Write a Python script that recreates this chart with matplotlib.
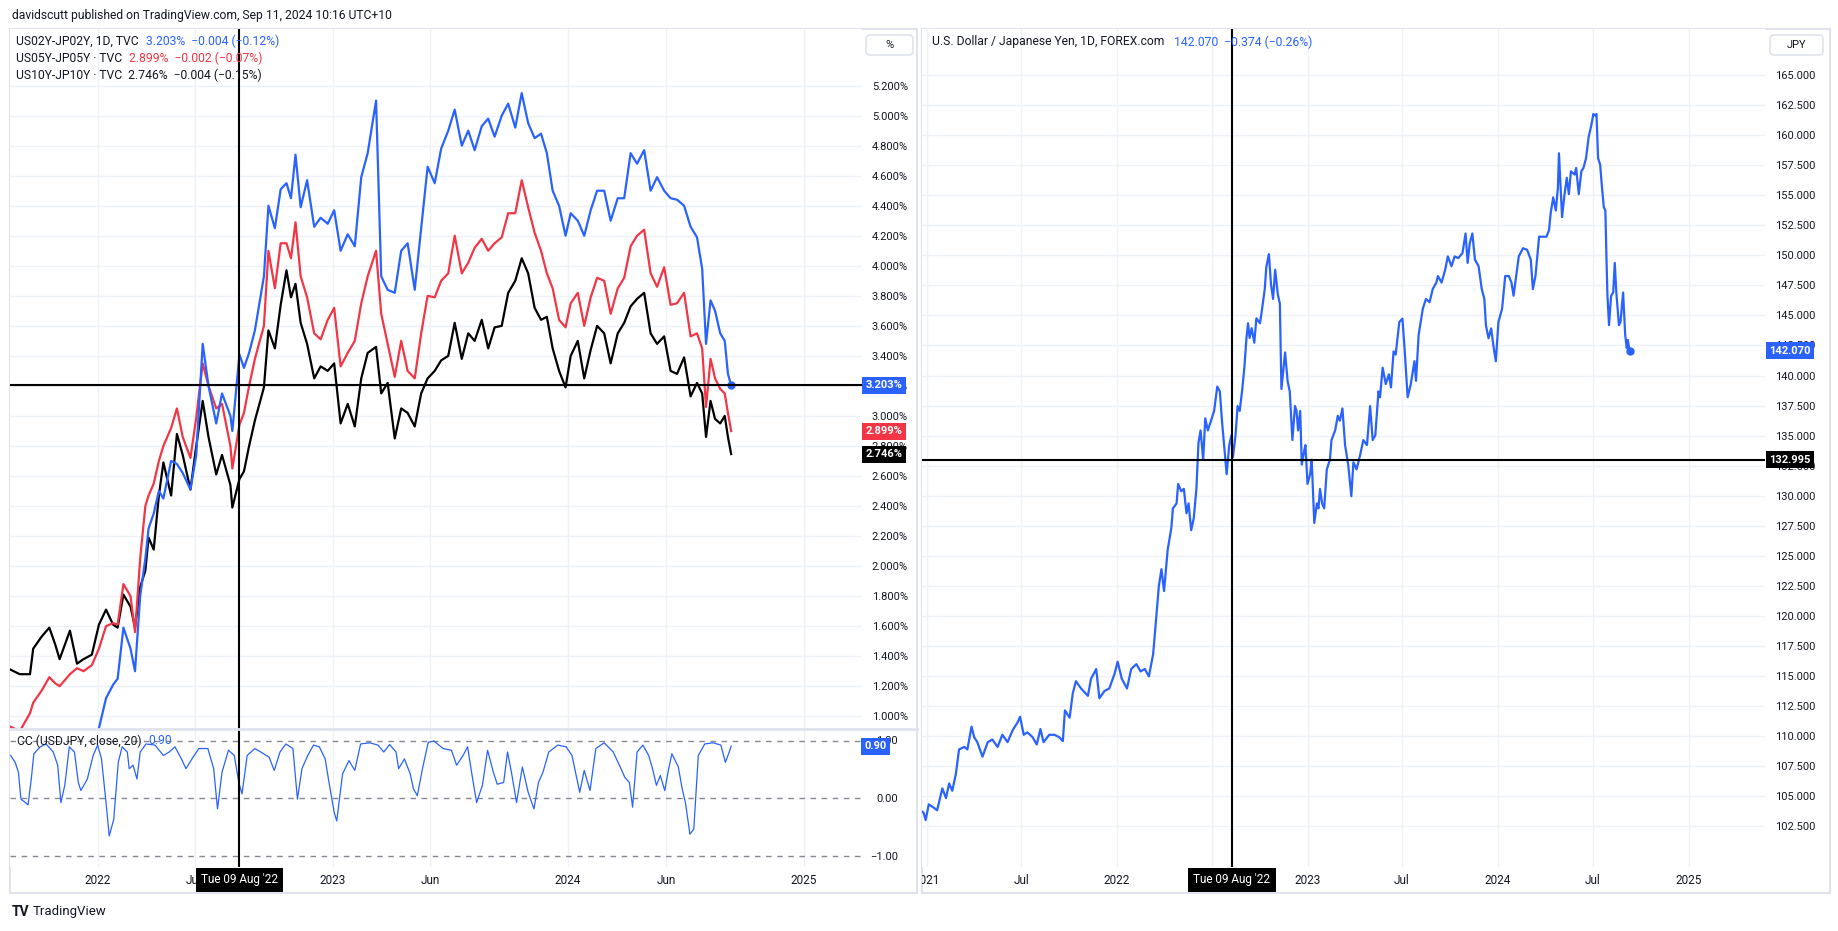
import numpy as np
import pandas as pd
import matplotlib
matplotlib.use('Agg')
import matplotlib.pyplot as plt
from matplotlib.patches import Rectangle, FancyBboxPatch
from matplotlib.lines import Line2D
from matplotlib.ticker import FixedLocator, FuncFormatter, NullFormatter
from matplotlib.transforms import blended_transform_factory, IdentityTransform

# ── Colours ───────────────────────────────────────────────────────────────────
BLUE   = '#2962ff'
RED    = '#f23645'
BLACK  = '#000000'
TEXT   = '#131722'
GRID   = '#eef1f6'
BORDER = '#e0e3eb'

# ── Left chart: US-JP yield spreads ──────────────────────────────────────────
spread_dates = [
    '2021-08-19', '2021-09-02', '2021-09-18', '2021-09-23', '2021-10-06', '2021-10-18',
    '2021-10-27', '2021-11-03', '2021-11-19', '2021-11-30', '2021-12-10', '2021-12-23',
    '2022-01-03', '2022-01-14', '2022-01-25', '2022-02-01', '2022-02-10', '2022-02-21',
    '2022-02-28', '2022-03-08', '2022-03-16', '2022-03-21', '2022-03-29', '2022-04-06',
    '2022-04-13', '2022-04-25', '2022-05-04', '2022-05-13', '2022-05-25', '2022-06-03',
    '2022-06-13', '2022-06-22', '2022-07-04', '2022-07-13', '2022-07-26', '2022-07-29',
    '2022-08-09', '2022-08-16', '2022-08-24', '2022-09-02', '2022-09-16', '2022-09-23',
    '2022-10-03', '2022-10-12', '2022-10-21', '2022-10-28', '2022-11-04',
    '2022-11-12', '2022-11-22', '2022-12-03', '2022-12-13', '2022-12-24', '2023-01-03',
    '2023-01-13', '2023-01-24', '2023-02-04', '2023-02-14', '2023-02-24', '2023-03-09',
    '2023-03-17', '2023-03-27', '2023-04-07', '2023-04-17', '2023-04-27', '2023-05-08',
    '2023-05-18', '2023-05-28', '2023-06-08', '2023-06-18', '2023-06-29', '2023-07-09',
    '2023-07-20', '2023-07-30', '2023-08-09', '2023-08-20', '2023-08-30', '2023-09-09',
    '2023-09-20', '2023-09-30', '2023-10-11', '2023-10-21', '2023-10-31', '2023-11-10',
    '2023-11-20', '2023-11-29', '2023-12-08', '2023-12-18', '2023-12-28', '2024-01-05',
    '2024-01-16', '2024-01-26', '2024-02-05', '2024-02-15', '2024-02-26', '2024-03-07',
    '2024-03-18', '2024-03-28', '2024-04-07', '2024-04-17', '2024-04-28', '2024-05-08',
    '2024-05-18', '2024-05-29', '2024-06-08', '2024-06-18', '2024-06-29', '2024-07-09',
    '2024-07-19', '2024-07-27', '2024-08-02', '2024-08-09', '2024-08-16', '2024-08-24',
    '2024-08-31', '2024-09-05', '2024-09-10',
]
us02_jp02 = [
    None, None, None, None, None, None, None, None, None, None, None, None,
    0.92, 1.12, 1.21, 1.25, 1.59, 1.45, 1.30, 1.80, 2.05, 2.25, 2.35, 2.50,
    2.45, 2.70, 2.68, 2.62, 2.51, 2.74, 3.48, 3.20, 2.95, 3.15, 3.00, 2.90,
    3.41, 3.32, 3.42, 3.57, 3.93, 4.40, 4.25, 4.51, 4.55, 4.45, 4.74,
    4.39, 4.57, 4.26, 4.32, 4.28, 4.37, 4.10, 4.21, 4.13, 4.59, 4.75, 5.10,
    3.93, 3.84, 3.82, 4.10, 4.15, 3.84, 4.25, 4.66, 4.55, 4.78, 4.90, 5.04,
    4.80, 4.90, 4.77, 4.93, 4.98, 4.86, 5.00, 5.08, 4.92, 5.15, 4.95, 4.85,
    4.88, 4.75, 4.50, 4.40, 4.20, 4.35,
    4.30, 4.20, 4.37, 4.50, 4.50, 4.30, 4.45, 4.45, 4.75, 4.68, 4.77, 4.50,
    4.59, 4.50, 4.45, 4.44, 4.40, 4.26, 4.19, 3.98, 3.48, 3.77, 3.70, 3.55,
    3.50, 3.28, 3.203,
]
us05_jp05 = [
    0.93, 0.90, 1.02, 1.09, 1.17, 1.26, 1.22, 1.20, 1.28, 1.32, 1.30, 1.34,
    1.45, 1.60, 1.62, 1.61, 1.88, 1.80, 1.56, 2.05, 2.40, 2.47, 2.55, 2.70,
    2.80, 2.92, 3.05, 2.86, 2.72, 2.99, 3.35, 3.20, 3.05, 3.08, 2.80, 2.65,
    2.94, 3.02, 3.20, 3.38, 3.60, 4.10, 3.85, 4.15, 4.15, 4.05, 4.29,
    3.93, 3.79, 3.55, 3.51, 3.64, 3.72, 3.33, 3.42, 3.50, 3.75, 3.93, 4.10,
    3.68, 3.48, 3.26, 3.50, 3.30, 3.25, 3.55, 3.80, 3.79, 3.90, 3.95, 4.20,
    3.95, 4.02, 4.12, 4.18, 4.10, 4.15, 4.19, 4.35, 4.35, 4.57, 4.39, 4.22,
    4.10, 3.95, 3.85, 3.64, 3.59, 3.75,
    3.82, 3.60, 3.79, 3.92, 3.90, 3.68, 3.85, 3.92, 4.13, 4.20, 4.24, 3.95,
    3.86, 3.99, 3.74, 3.75, 3.82, 3.53, 3.55, 3.45, 3.06, 3.38, 3.25, 3.18,
    3.15, 3.02, 2.899,
]
us10_jp10 = [
    1.31, 1.28, 1.28, 1.45, 1.53, 1.59, 1.48, 1.38, 1.57, 1.35, 1.38, 1.41,
    1.61, 1.71, 1.61, 1.59, 1.81, 1.73, 1.59, 1.86, 1.97, 2.19, 2.11, 2.47,
    2.69, 2.47, 2.88, 2.74, 2.51, 2.80, 3.10, 2.86, 2.61, 2.74, 2.54, 2.39,
    2.58, 2.63, 2.80, 2.97, 3.19, 3.57, 3.45, 3.74, 3.97, 3.79, 3.88,
    3.62, 3.48, 3.25, 3.33, 3.30, 3.35, 2.95, 3.08, 2.93, 3.25, 3.42, 3.46,
    3.15, 3.22, 2.85, 3.05, 3.02, 2.93, 3.15, 3.25, 3.30, 3.37, 3.40, 3.62,
    3.38, 3.55, 3.50, 3.64, 3.45, 3.59, 3.60, 3.82, 3.90, 4.05, 3.95, 3.72,
    3.64, 3.66, 3.45, 3.30, 3.19, 3.40,
    3.50, 3.25, 3.44, 3.60, 3.55, 3.35, 3.55, 3.62, 3.73, 3.78, 3.82, 3.55,
    3.48, 3.53, 3.30, 3.28, 3.39, 3.13, 3.22, 3.15, 2.86, 3.10, 2.98, 2.95,
    3.00, 2.86, 2.746,
]

# CC(USDJPY, close, 20) sub-pane, x given as days after 2022-01-01
cc_days = [
    -135, -128, -123, -119, -112, -108, -103, -99, -89, -80,
    -69, -62, -57, -51, -44, -36, -30, -26, -16, -7,
    0, 6, 13, 18, 25, 32, 38, 46, 49, 55,
    61, 66, 75, 89, 102, 111, 120, 130, 137, 148,
    157, 171, 180, 186, 193, 203, 212, 219, 224, 232,
    244, 253, 266, 274, 283, 292, 303, 310, 317, 326,
    335, 344, 353, 359, 367, 371, 380, 390, 399, 408,
    422, 435, 444, 453, 463, 467, 476, 485, 490, 496,
    504, 513, 522, 536, 549, 557, 567, 574, 581, 588,
    597, 605, 614, 620, 630, 636, 642, 650, 659, 668,
    677, 684, 691, 700, 714, 727, 736, 748, 755, 764,
    773, 786, 800, 812, 818, 825, 830, 837, 846, 855,
    861, 867, 873, 880, 885, 891, 901, 907, 912, 919,
    925, 932, 942, 955, 967, 974, 980, 983,
]
cc_vals = [
    0.74, 0.62, 0.45, -0.02, -0.08, -0.12, 0.33, 0.77, 0.89, 0.94,
    0.80, 0.57, -0.08, 0.22, 0.89, 0.80, 0.27, 0.13, 0.33, 0.74,
    0.92, 0.68, -0.08, -0.66, -0.37, 0.62, 0.89, 0.80, 0.51, 0.57,
    0.33, 0.80, 0.94, 0.92, 0.74, 0.80, 0.89, 0.68, 0.51, 0.71,
    0.86, 0.86, 0.51, -0.19, 0.45, 0.83, 0.74, 0.27, 0.07, 0.74,
    0.86, 0.80, 0.71, 0.48, 0.80, 0.94, 0.86, -0.02, 0.51, 0.74,
    0.92, 0.89, 0.68, 0.27, -0.25, -0.40, 0.42, 0.65, 0.48, 0.94,
    0.96, 0.92, 0.80, 0.93, 0.80, 0.51, 0.68, 0.42, 0.16, 0.04,
    0.51, 0.97, 0.99, 0.86, 0.83, 0.57, 0.74, 0.89, 0.39, -0.08,
    0.22, 0.83, 0.45, 0.24, 0.27, 0.80, 0.45, -0.08, 0.54, 0.10,
    -0.19, 0.27, 0.45, 0.80, 0.92, 0.89, 0.74, 0.10, 0.48, 0.13,
    0.86, 0.96, 0.80, 0.51, 0.36, 0.27, -0.16, 0.80, 0.92, 0.74,
    0.51, 0.22, 0.39, 0.13, 0.45, 0.77, 0.54, 0.16, -0.08, -0.63,
    -0.54, 0.74, 0.94, 0.96, 0.92, 0.62, 0.80, 0.90,
]
cc_levels = [1.0, 0.0, -1.0]

# ── Right chart: USDJPY, x given as days after 2021-01-01 ────────────────────
jpy_days = [
    -12, -6, -2, 4, 14, 20, 30, 37, 43, 49,
    56, 62, 72, 78, 86, 91, 97, 107, 117, 126,
    136, 145, 155, 165, 174, 179, 186, 193, 203, 211,
    218, 224, 235, 245, 254, 261, 265, 274, 280, 286,
    296, 309, 315, 325, 331, 341, 350, 360, 366, 374,
    384, 392, 402, 410, 418, 426, 434, 438, 445, 450,
    455, 462, 469, 472, 479, 482, 488, 493, 498, 502,
    507, 512, 517, 521, 525, 530, 534, 539, 545, 551,
    557, 562, 566, 571, 575, 580, 584, 587, 592, 596,
    600, 605, 609, 613, 616, 619, 623, 628, 632, 639,
    643, 648, 651, 656, 660, 664, 668, 673, 677, 680,
    687, 692, 696, 701, 706, 709, 712, 716, 719, 724,
    726, 730, 735, 738, 743, 748, 751, 754, 758, 762,
    767, 773, 776, 783, 788, 792, 797, 802, 808, 814,
    818, 824, 831, 837, 844, 850, 855, 860, 866,
    869, 874, 880, 886, 890, 895, 899, 906, 912, 916,
    922, 928, 935, 938, 943, 951, 957, 964, 970, 977,
    980, 987, 994, 999, 1006, 1012, 1019, 1027, 1033, 1037,
    1041, 1046, 1051, 1058, 1064, 1069, 1072, 1077, 1082, 1087,
    1091, 1096, 1103, 1109, 1116, 1121, 1125, 1130, 1135, 1143,
    1151, 1158, 1162, 1167, 1174, 1180, 1188, 1193, 1196, 1201,
    1206, 1210, 1212, 1218, 1222, 1227, 1231, 1235, 1242, 1245,
    1250, 1255, 1259, 1264, 1269, 1274, 1278, 1281, 1284, 1287,
    1291, 1294, 1298, 1301, 1303, 1305, 1308, 1312, 1316, 1319,
    1322, 1327, 1330, 1335, 1339, 1342, 1344, 1347, 1348,
]
jpy_vals = [
    103.83, 103.63, 103.02, 104.32, 104.03, 103.83, 105.65, 104.84, 106.06, 105.45,
    106.87, 108.89, 109.10, 108.89, 110.79, 109.91, 109.50, 108.29, 109.50, 109.71,
    109.10, 110.11, 109.50, 110.51, 111.12, 111.61, 110.11, 110.31, 109.91, 109.30,
    110.59, 109.50, 110.11, 110.11, 109.91, 109.58, 112.14, 111.53, 113.55, 114.57,
    113.96, 113.35, 114.77, 115.58, 113.15, 113.76, 113.96, 115.17, 116.19, 114.77,
    113.96, 115.58, 115.99, 115.38, 115.58, 114.97, 116.80, 118.82, 122.47, 123.89,
    122.07, 125.51, 127.33, 128.95, 129.36, 130.98, 130.37, 130.57, 128.54, 129.36,
    127.13, 128.14, 130.57, 134.42, 135.43, 133.00, 136.44, 135.43, 136.24, 137.05,
    139.08, 138.67, 136.24, 133.81, 131.79, 134.21, 135.03, 133.20, 135.03, 137.46,
    137.05, 138.88, 140.70, 143.13, 144.35, 143.13, 143.94, 142.73, 144.76, 144.35,
    145.56, 147.18, 149.01, 150.10, 147.59, 146.37, 148.80, 146.78, 145.97, 138.88,
    141.92, 139.49, 138.68, 134.63, 137.46, 137.05, 135.43, 137.05, 132.59, 133.81,
    134.21, 130.98, 131.79, 133.00, 127.73, 129.36, 128.95, 130.57, 129.36, 128.95,
    132.19, 133.00, 134.63, 135.43, 136.65, 136.24, 137.26, 134.21, 132.59, 129.96,
    132.79, 132.19, 133.41, 134.63, 134.21, 137.46, 134.63, 135.03, 138.68,
    138.19, 140.65, 139.29, 140.10, 139.01, 142.01, 141.74, 144.46, 144.73, 142.28,
    138.19, 139.29, 141.19, 139.56, 143.37, 145.55, 146.37, 146.10, 147.19, 147.73,
    148.28, 147.73, 148.82, 149.91, 149.09, 149.91, 149.77, 150.18, 151.82, 149.37,
    151.00, 151.82, 149.64, 149.09, 147.19, 146.37, 144.19, 143.10, 143.92, 142.28,
    141.19, 144.46, 145.55, 148.28, 148.28, 147.73, 146.64, 148.28, 149.91, 150.59,
    150.46, 149.64, 147.19, 148.28, 151.55, 151.55, 151.55, 152.09, 153.45, 154.82,
    153.73, 155.63, 158.49, 153.18, 154.82, 156.45, 155.09, 156.99, 156.72, 157.27,
    155.09, 156.99, 157.27, 158.09, 159.86, 160.81, 161.76, 161.63, 161.76, 158.09,
    157.54, 155.91, 154.00, 153.73, 149.91, 146.64, 144.19, 146.64, 146.91, 149.37,
    146.91, 144.19, 144.46, 146.91, 143.37, 142.28, 142.96, 142.15, 142.07,
]

# crosshair position in the screenshot
CROSS_DATE  = '2022-08-09'
CROSS_LEFT  = 3.203
CROSS_RIGHT = 132.995

# axis ticks / labels
left_pct_ticks  = [round(1.0 + 0.2 * i, 1) for i in range(22)]
right_jpy_ticks = [102.5 + 2.5 * i for i in range(26)]
left_time_dates  = ['2022-01-01', '2022-06-01', '2023-01-01', '2023-06-01',
                    '2024-01-01', '2024-06-01', '2025-01-01']
left_time_labels = ['2022', 'Jun', '2023', 'Jun', '2024', 'Jun', '2025']
right_time_dates  = ['2021-01-01', '2021-07-01', '2022-01-01', '2022-07-01', '2023-01-01',
                     '2023-07-01', '2024-01-01', '2024-07-01', '2025-01-01']
# the Jul 2022 label sits under the crosshair date badge, so it is left blank
right_time_labels = ['2021', 'Jul', '2022', '', '2023', 'Jul', '2024', 'Jul', '2025']

# ── Prep ──────────────────────────────────────────────────────────────────────
plt.rcParams['font.family'] = ['Roboto', 'DejaVu Sans']
W, H = 1838, 931
FS = 8       # price / time scale text
LFS = 8.7    # legends and header

sp_x = pd.to_datetime(spread_dates)
y2 = np.array(us02_jp02, dtype=float)
y5 = np.array(us05_jp05, dtype=float)
y10 = np.array(us10_jp10, dtype=float)
cc_x = pd.Timestamp('2022-01-01') + pd.to_timedelta(cc_days, unit='D')
jpy_x = pd.Timestamp('2021-01-01') + pd.to_timedelta(jpy_days, unit='D')
cross = pd.Timestamp(CROSS_DATE)

L_XLIM = (pd.Timestamp('2021-08-18'), pd.Timestamp('2025-04-01'))
R_XLIM = (pd.Timestamp('2020-12-23'), pd.Timestamp('2025-05-27'))

fig = plt.figure(figsize=(W / 100, H / 100), dpi=100)
fig.patch.set_facecolor('white')


def add_ax(x0, y0, x1, y1):
    ax = fig.add_axes([x0 / W, 1 - y1 / H, (x1 - x0) / W, (y1 - y0) / H])
    for s in ax.spines.values():
        s.set_visible(False)
    ax.tick_params(length=0, labelsize=FS, labelcolor=TEXT)
    return ax


def ftext(x, y, s, **kw):
    kw.setdefault('fontsize', LFS)
    kw.setdefault('color', TEXT)
    return fig.text(x / W, 1 - y / H, s, va='center', ha=kw.pop('ha', 'left'), **kw)


def frame(x0, y0, x1, y1):
    fig.add_artist(Rectangle((x0, H - y1), x1 - x0, y1 - y0, transform=IdentityTransform(),
                             fill=False, ec=BORDER, lw=1.5, zorder=0))


def unit_box(x0, y0, x1, y1, label):
    fig.add_artist(FancyBboxPatch((x0, H - y1), x1 - x0, y1 - y0,
                                  boxstyle='round,pad=0,rounding_size=4',
                                  transform=IdentityTransform(), fc='white', ec=BORDER, lw=1.2))
    ftext((x0 + x1) / 2, (y0 + y1) / 2, label, ha='center', fontsize=FS)


def badge(ax, y, txt, color, xoff=0.0):
    tr = blended_transform_factory(ax.transAxes, ax.transData)
    ax.text(1.0 + xoff, y, txt, transform=tr, ha='left', va='center', color='white',
            fontsize=FS, fontweight='bold', clip_on=False, zorder=10,
            bbox=dict(boxstyle='square,pad=0.32', fc=color, ec='none'))


def time_axis(ax, xlim, dates, labels):
    ax.set_xlim(*xlim)
    ax.set_ylim(0, 1)
    ax.axis('off')
    for d, lab in zip(dates, labels):
        if lab:
            ax.text(pd.Timestamp(d), 0.5, lab, ha='center', va='center', fontsize=FS + 0.5,
                    color=TEXT, clip_on=True)
    ax.text(cross, 0.5, "Tue 09 Aug '22", ha='center', va='center', fontsize=FS + 0.5,
            color='white', zorder=10, clip_on=False,
            bbox=dict(boxstyle='square,pad=0.45', fc=BLACK, ec='none'))


def pane_grid(ax, xlim, grid_dates, ygrid=True):
    ax.set_xlim(*xlim)
    ax.xaxis.set_major_locator(FixedLocator(pd.to_datetime(grid_dates).map(
        matplotlib.dates.date2num)))
    ax.xaxis.set_major_formatter(NullFormatter())
    ax.grid(axis='x', color=GRID, lw=1)
    if ygrid:
        ax.grid(axis='y', color=GRID, lw=1)
    ax.set_axisbelow(True)


# ── Frames ────────────────────────────────────────────────────────────────────
frame(10, 29, 917, 893)
frame(922, 29, 1830, 893)
fig.add_artist(Line2D([10, 917], [H - 729, H - 729], transform=IdentityTransform(),
                      color=BORDER, lw=2))

# ── Left main pane ────────────────────────────────────────────────────────────
axL = add_ax(10, 29, 862, 729)
pane_grid(axL, L_XLIM, left_time_dates)
axL.set_ylim(0.915, 5.577)
axL.yaxis.tick_right()
axL.yaxis.set_major_locator(FixedLocator(left_pct_ticks))
axL.yaxis.set_major_formatter(FuncFormatter(lambda v, p: f'{v:.3f}%'))
axL.tick_params(axis='y', pad=7)
axL.plot(sp_x, y10, color=BLACK, lw=1.6, zorder=3)
axL.plot(sp_x, y5, color=RED, lw=1.6, zorder=3)
axL.plot(sp_x, y2, color=BLUE, lw=1.6, zorder=4)
axL.plot(sp_x[-1], y2[-1], 'o', color=BLUE, ms=5, zorder=5)
axL.axvline(cross, color=BLACK, lw=1.5, zorder=6)
axL.axhline(CROSS_LEFT, color=BLACK, lw=1.5, zorder=6)
badge(axL, y2[-1], f'{y2[-1]:.3f}%', BLUE, 0.004)
badge(axL, y5[-1], f'{y5[-1]:.3f}%', RED, 0.004)
badge(axL, y10[-1], f'{y10[-1]:.3f}%', BLACK, 0.004)

# ── Left CC pane ──────────────────────────────────────────────────────────────
axC = add_ax(10, 729, 862, 867)
pane_grid(axC, L_XLIM, left_time_dates, ygrid=False)
axC.set_ylim(-1.2, 1.2)
axC.yaxis.tick_right()
axC.yaxis.set_major_locator(FixedLocator(cc_levels))
axC.yaxis.set_major_formatter(FuncFormatter(lambda v, p: f'{v:.2f}'.replace('-', '\u2212')))
axC.tick_params(axis='y', pad=26)
for lab in axC.get_yticklabels():
    lab.set_horizontalalignment('right')
for lvl in cc_levels:
    axC.axhline(lvl, color='#868993', lw=1, ls=(0, (4, 4)), zorder=2)
axC.plot(cc_x, cc_vals, color=BLUE, lw=0.9, zorder=3)
axC.axvline(cross, color=BLACK, lw=1.5, zorder=6)
badge(axC, cc_vals[-1], f'{cc_vals[-1]:.2f}', BLUE, 0.003)

axLT = add_ax(10, 867, 862, 893)
time_axis(axLT, L_XLIM, left_time_dates, left_time_labels)

# ── Right pane: USDJPY ────────────────────────────────────────────────────────
axR = add_ax(922, 29, 1765, 867)
pane_grid(axR, R_XLIM, right_time_dates)
axR.set_ylim(99.11, 168.83)
axR.yaxis.tick_right()
axR.yaxis.set_major_locator(FixedLocator(right_jpy_ticks))
axR.yaxis.set_major_formatter(FuncFormatter(lambda v, p: f'{v:.3f}'))
axR.tick_params(axis='y', pad=7)
axR.plot(jpy_x, jpy_vals, color=BLUE, lw=1.6, zorder=3)
axR.plot(jpy_x[-1], jpy_vals[-1], 'o', color=BLUE, ms=5, zorder=5)
axR.axvline(cross, color=BLACK, lw=1.5, zorder=6)
axR.axhline(CROSS_RIGHT, color=BLACK, lw=1.5, zorder=6)
badge(axR, jpy_vals[-1], f'{jpy_vals[-1]:.3f}', BLUE, 0.005)
badge(axR, CROSS_RIGHT, f'{CROSS_RIGHT:.3f}', BLACK, 0.005)

axRT = add_ax(922, 867, 1765, 893)
time_axis(axRT, R_XLIM, right_time_dates, right_time_labels)

# ── Texts ─────────────────────────────────────────────────────────────────────
ftext(12, 15, 'davidscutt published on TradingView.com, Sep 11, 2024 10:16 UTC+10')
ftext(16, 41, 'US02Y-JP02Y, 1D, TVC')
ftext(146, 41, '3.203%  \u22120.004 (\u22120.12%)', color=BLUE)
ftext(16, 58, 'US05Y-JP05Y \u00b7 TVC')
ftext(129, 58, '2.899%  \u22120.002 (\u22120.07%)', color=RED)
ftext(16, 75, 'US10Y-JP10Y \u00b7 TVC  2.746%  \u22120.004 (\u22120.15%)')
ftext(932, 42, 'U.S. Dollar / Japanese Yen, 1D, FOREX.com')
ftext(1174, 42, '142.070  \u22120.374 (\u22120.26%)', color=BLUE)
ftext(17, 741, 'CC (USDJPY, close, 20)')
ftext(148, 741, f'{cc_vals[-1]:.2f}', color=BLUE)

unit_box(866, 35, 913, 55, '%')
unit_box(1770, 35, 1823, 55, 'JPY')

ftext(12, 912, 'TV', fontsize=10, fontweight='bold')
ftext(33, 912, 'TradingView', fontsize=9.5)

fig.savefig('out.png', dpi=100, facecolor='white')
